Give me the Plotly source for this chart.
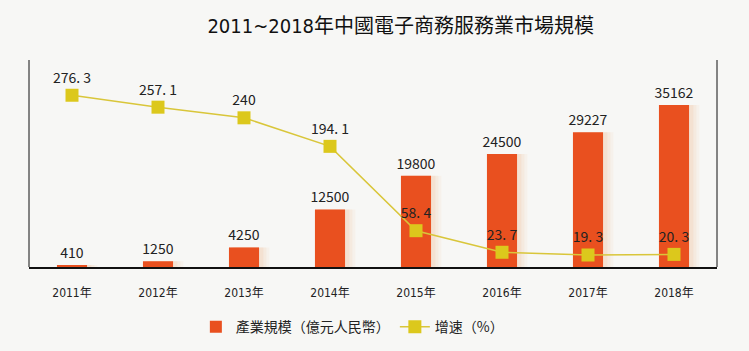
import plotly.graph_objects as go

years = ["2011年", "2012年", "2013年", "2014年", "2015年", "2016年", "2017年", "2018年"]
scale = [410, 1250, 4250, 12500, 19800, 24500, 29227, 35162]
growth = [276.3, 257.1, 240, 194.1, 58.4, 23.7, 19.3, 20.3]

bar_color = "#E9501F"
line_color = "#D9C63A"
marker_color = "#DCC81C"
bg = "#F7F7F5"
label_font = "Noto Sans CJK SC, DejaVu Sans"
narrow = "DejaVu Sans Condensed, Noto Sans CJK TC, sans-serif"

def fmt(v):
    s = ("%.1f" % v).rstrip("0").rstrip(".")
    return s.replace(".", ". ")

xs = list(range(len(years)))
fig = go.Figure()

# soft shadow behind bars
for off, w, a in [(0.06, 0.41, 0.06), (0.045, 0.39, 0.08), (0.03, 0.37, 0.10)]:
    fig.add_trace(go.Bar(
        x=xs, y=scale, width=w, offset=-0.175 + off,
        marker=dict(color="rgba(240,150,90,%s)" % a, line=dict(width=0)),
        hoverinfo="skip", showlegend=False, yaxis="y"))

fig.add_trace(go.Bar(
    x=xs, y=scale, width=0.35, offset=-0.175,
    name="產業規模（億元人民幣）",
    marker=dict(color=bar_color, line=dict(width=0)),
    text=[str(v) for v in scale], textposition="outside", constraintext="none",
    textfont=dict(family=label_font, size=14, color="#222"),
    cliponaxis=False, yaxis="y"))

fig.add_trace(go.Scatter(
    x=xs, y=growth, mode="lines+markers+text",
    name="增速（%）",
    line=dict(color=line_color, width=1.5),
    marker=dict(symbol="square", size=13, color=marker_color),
    text=[fmt(v) for v in growth], textposition="top center",
    textfont=dict(family=label_font, size=14, color="#222"),
    cliponaxis=False, yaxis="y2"))

fig.update_layout(
    width=749, height=351,
    margin=dict(l=29, r=32, t=60, b=84, autoexpand=False),
    paper_bgcolor=bg, plot_bgcolor=bg,
    barmode="overlay",
    title=dict(text="2011~2018年中國電子商務服務業市場規模",
               x=0.535, xanchor="center", y=0.925, yanchor="middle",
               font=dict(family=narrow, size=20, color="#111")),
    xaxis=dict(tickmode="array", tickvals=xs, ticktext=years,
               range=[-0.5, len(years) - 0.5], showgrid=False, zeroline=False,
               showline=True, linecolor="#111", linewidth=1.5,
               ticks="outside", ticklen=14, tickcolor="rgba(0,0,0,0)",
               tickfont=dict(family=narrow, size=12, color="#222")),
    yaxis=dict(range=[0, 44930], showgrid=False, zeroline=False, showticklabels=False,
               showline=False),
    yaxis2=dict(range=[0, 333], overlaying="y", side="right", showgrid=False,
                zeroline=False, showticklabels=False, showline=False),
    legend=dict(orientation="h", x=0.47, xanchor="center",
                yref="container", y=0.068, yanchor="middle",
                font=dict(family=label_font, size=14, color="#222"),
                bgcolor="rgba(0,0,0,0)", itemwidth=30),
    shapes=[
        dict(type="line", xref="paper", yref="paper", x0=0, x1=0, y0=0, y1=1,
             line=dict(color="#111", width=1)),
        dict(type="line", xref="paper", yref="paper", x0=1, x1=1, y0=0, y1=1,
             line=dict(color="#111", width=1)),
    ],
)

fig.write_html("out.html")
